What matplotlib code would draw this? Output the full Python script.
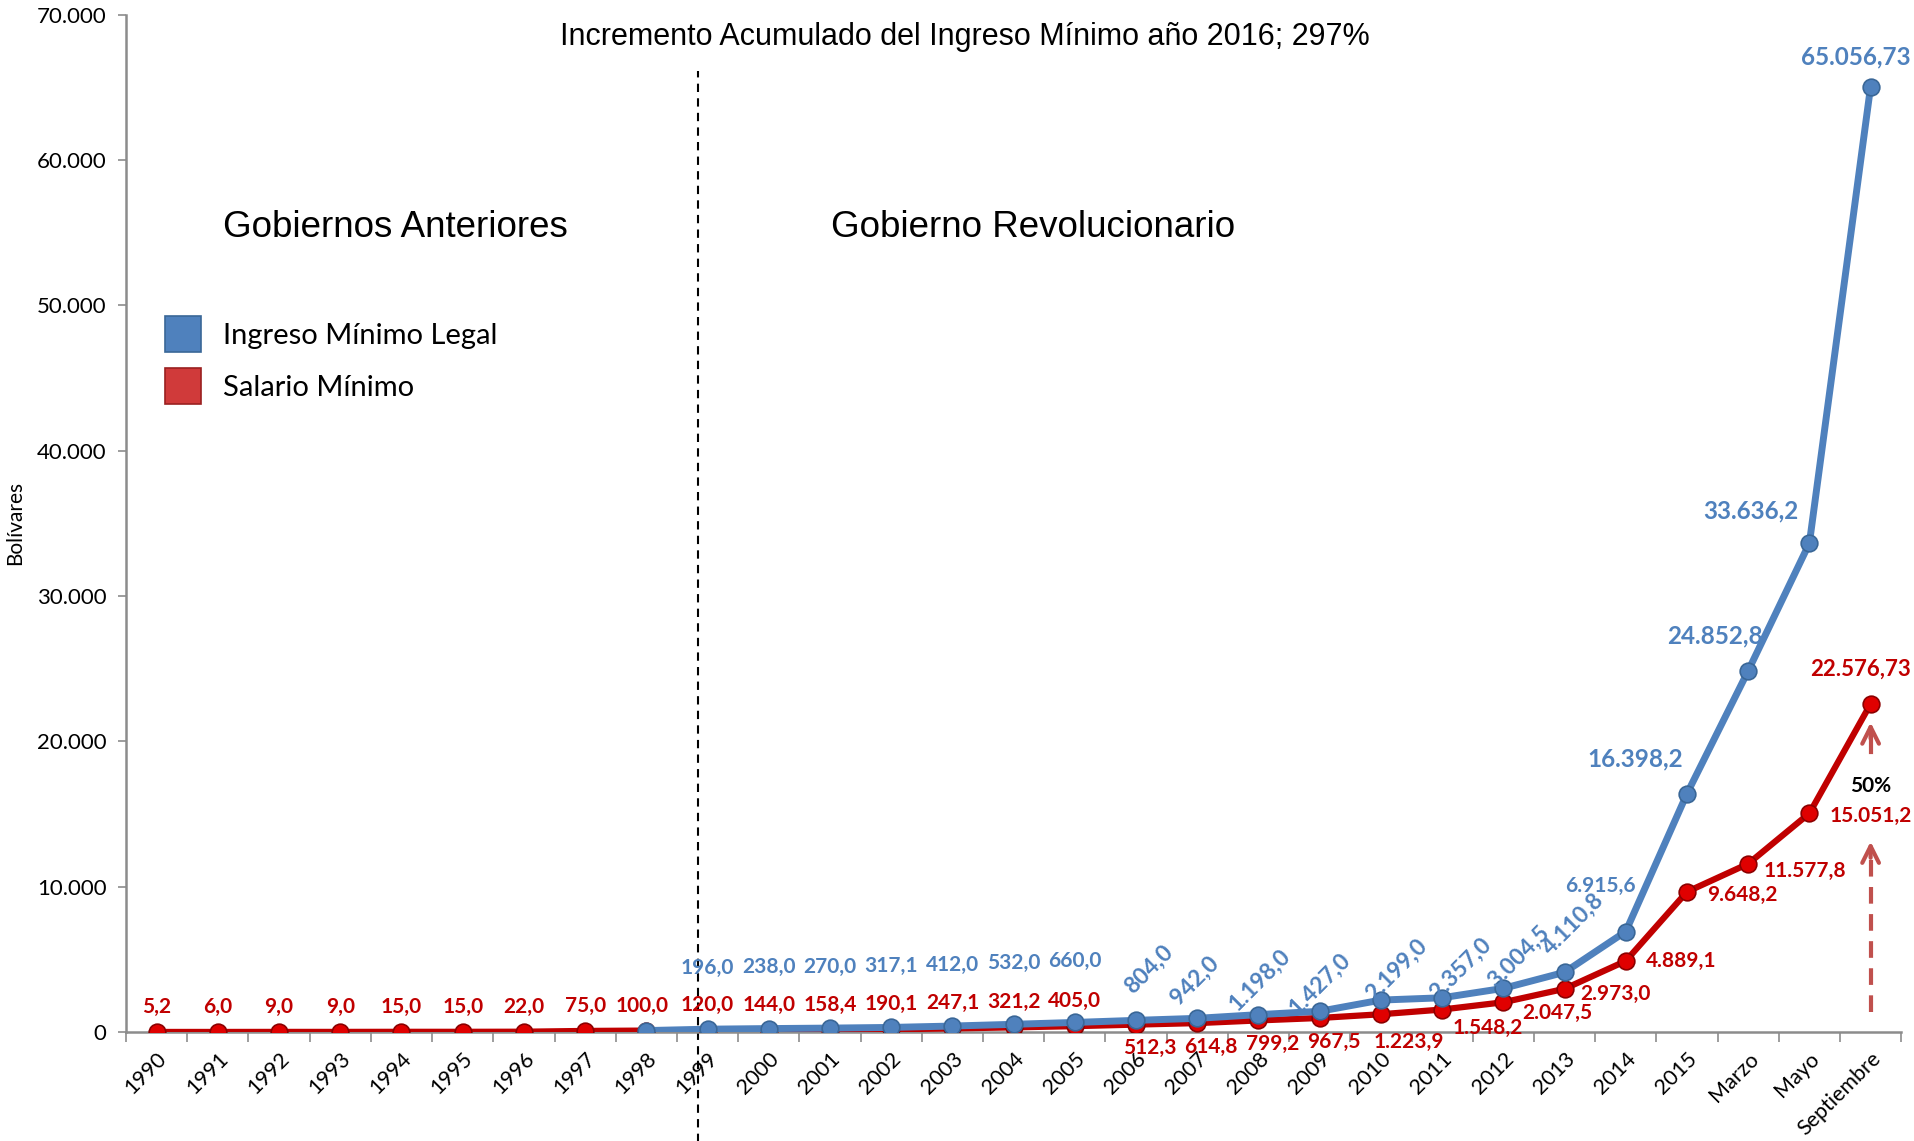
import matplotlib
matplotlib.use("Agg")
import matplotlib.pyplot as plt
import numpy as np

# ----------------- Datos -----------------
categorias = [str(a) for a in range(1990, 2016)] + ["Marzo", "Mayo", "Septiembre"]

salario_minimo = [5.2, 6.0, 9.0, 9.0, 15.0, 15.0, 22.0, 75.0, 100.0, 120.0,
                  144.0, 158.4, 190.1, 247.1, 321.2, 405.0, 512.3, 614.8, 799.2, 967.5,
                  1223.9, 1548.2, 2047.5, 2973.0, 4889.1, 9648.2, 11577.8, 15051.2, 22576.73]

# Ingreso Mínimo Legal empieza en 1998 (índice 8)
ingreso_inicio = 8
ingreso_minimo = [100.0, 196.0, 238.0, 270.0, 317.1, 412.0, 532.0, 660.0, 804.0, 942.0,
                  1198.0, 1427.0, 2199.0, 2357.0, 3004.5, 4110.8, 6915.6, 16398.2,
                  24852.8, 33636.2, 65056.73]

y_ticks = [0, 10000, 20000, 30000, 40000, 50000, 60000, 70000]

# desplazamientos de las etiquetas (puntos) para cada serie
off_salario = ([(0, 18)] * 8 + [(-3, 18)] + [(0, 18)] * 7 +
               [(10, -17)] * 4 +
               [(20, -20), (33, -13), (39, -8), (37, -4), (40, 0), (40, -2), (41, -5), (44, -2), (-7, 25)])
off_ingreso = ([None] + [(0, 44)] * 7 +
               [(9, 37), (-2, 27), (1, 25), (0, 20), (11, 22), (13, 21), (11, 23), (6, 35)] +
               [(-18, 33), (-37, 25), (-24, 25), (-42, 23), (-11, 21)])

AZUL = "#4F81BD"
AZUL_BORDE = "#3A6797"
ROJO = "#C00000"
ROJO_MARCA = "#E00000"
ROJO_BORDE = "#8C0000"
GRIS = "#8C8C8C"


def fmt_valor(v):
    d = 1 if round(v, 1) == v else 2
    s = f"{v:,.{d}f}"
    return s.replace(",", "X").replace(".", ",").replace("X", ".")


def fmt_eje(v, pos=None):
    return f"{int(v):,}".replace(",", ".")


# ----------------- Figura -----------------
plt.rcParams["font.family"] = ["Lato", "DejaVu Sans"]
fig = plt.figure(figsize=(19.15, 11.41), dpi=100)
fig.patch.set_facecolor("white")
ax = fig.add_axes([0.0658, 0.0955, 0.927, 0.8916])

x = np.arange(len(categorias))
x_ing = x[ingreso_inicio:]

ax.plot(x, salario_minimo, color=ROJO, lw=4.5, zorder=3, solid_capstyle="round",
        marker="o", ms=12, mfc=ROJO_MARCA, mec=ROJO_BORDE, mew=1.2)
ax.plot(x_ing, ingreso_minimo, color=AZUL, lw=5, zorder=4, solid_capstyle="round",
        marker="o", ms=12, mfc=AZUL, mec=AZUL_BORDE, mew=1.2)

# etiquetas de datos
for i, (v, off) in enumerate(zip(salario_minimo, off_salario)):
    fs = 16 if i == len(salario_minimo) - 1 else 15
    ax.annotate(fmt_valor(v), (x[i], v), xytext=off, textcoords="offset points",
                ha="center", va="center", color=ROJO, fontsize=fs, fontweight="bold", zorder=6)

for j, (v, off) in enumerate(zip(ingreso_minimo, off_ingreso)):
    if off is None:
        continue
    rot = 45 if 8 <= j <= 15 else 0
    if 8 <= j <= 15:
        fs = 16.5
    elif j >= 17:
        fs = 17.5
    else:
        fs = 15
    ax.annotate(fmt_valor(v), (x_ing[j], v), xytext=off, textcoords="offset points",
                ha="center", va="center", color=AZUL, fontsize=fs, fontweight="bold",
                rotation=rot, zorder=6)

# línea divisoria de gobiernos
ax.axvline(8.85, ymin=-0.125, ymax=0.945, color="black", ls=(0, (4, 3)), lw=1.5,
           clip_on=False, zorder=2)

# flechas del 50%
c_flecha = "#C0504D"
ax.plot([28, 28], [1400, 12300], color=c_flecha, ls=(0, (4, 2.5)), lw=3, zorder=5)
ax.annotate("", xy=(28, 13300), xytext=(28, 11800),
            arrowprops=dict(arrowstyle="->", color=c_flecha, lw=3, mutation_scale=30), zorder=5)
ax.plot([28, 28], [19300, 20700], color=c_flecha, lw=3, zorder=5)
ax.annotate("", xy=(28, 21500), xytext=(28, 20000),
            arrowprops=dict(arrowstyle="->", color=c_flecha, lw=3, mutation_scale=30), zorder=5)
ax.text(28, 16950, "50%", ha="center", va="center", fontsize=15, fontweight="bold", color="black")

# ejes
ax.set_xlim(-0.5, len(categorias) - 0.5)
ax.set_ylim(0, 70000)
ax.set_yticks(y_ticks)
ax.yaxis.set_major_formatter(plt.FuncFormatter(fmt_eje))
ax.tick_params(axis="y", labelsize=16, length=6, width=1.2, color=GRIS, pad=8)

ax.set_xticks(x)
ax.set_xticklabels(categorias, rotation=45, ha="right", rotation_mode="anchor", fontsize=15.5)
ax.tick_params(axis="x", which="major", length=0, pad=12)
ax.set_xticks(np.arange(-0.5, len(categorias)), minor=True)
ax.tick_params(axis="x", which="minor", length=7, width=1.2, color=GRIS)

for s in ["top", "right"]:
    ax.spines[s].set_visible(False)
for s in ["left", "bottom"]:
    ax.spines[s].set_color(GRIS)
    ax.spines[s].set_linewidth(1.8)

ax.set_ylabel("Bolívares", fontsize=15)
ax.yaxis.set_label_coords(-0.057, 0.5)

# textos
fig.text(0.504, 0.968, "Incremento Acumulado del Ingreso Mínimo año 2016; 297%",
         ha="center", va="center", fontsize=22,
         family=["Liberation Sans Narrow", "Liberation Sans", "DejaVu Sans"])
fig.text(0.1165, 0.801, "Gobiernos Anteriores", ha="left", va="center", fontsize=26.5,
         family=["Liberation Sans", "DejaVu Sans"])
fig.text(0.434, 0.801, "Gobierno Revolucionario", ha="left", va="center", fontsize=26.5,
         family=["Liberation Sans", "DejaVu Sans"])

# leyenda
h1, = ax.plot([], [], ls="none", marker="s", ms=26, mfc=AZUL, mec=AZUL_BORDE, mew=1.2)
h2, = ax.plot([], [], ls="none", marker="s", ms=26, mfc="#D03A3A", mec="#9A2020", mew=1.2)
ax.legend([h1, h2], ["Ingreso Mínimo Legal", "Salario Mínimo"], loc="center left",
          bbox_to_anchor=(0.0197, 0.6586), frameon=False, fontsize=21, handlelength=1.5,
          handletextpad=0.64, labelspacing=0.9, borderpad=0, borderaxespad=0)

fig.savefig("out.png", dpi=100)
